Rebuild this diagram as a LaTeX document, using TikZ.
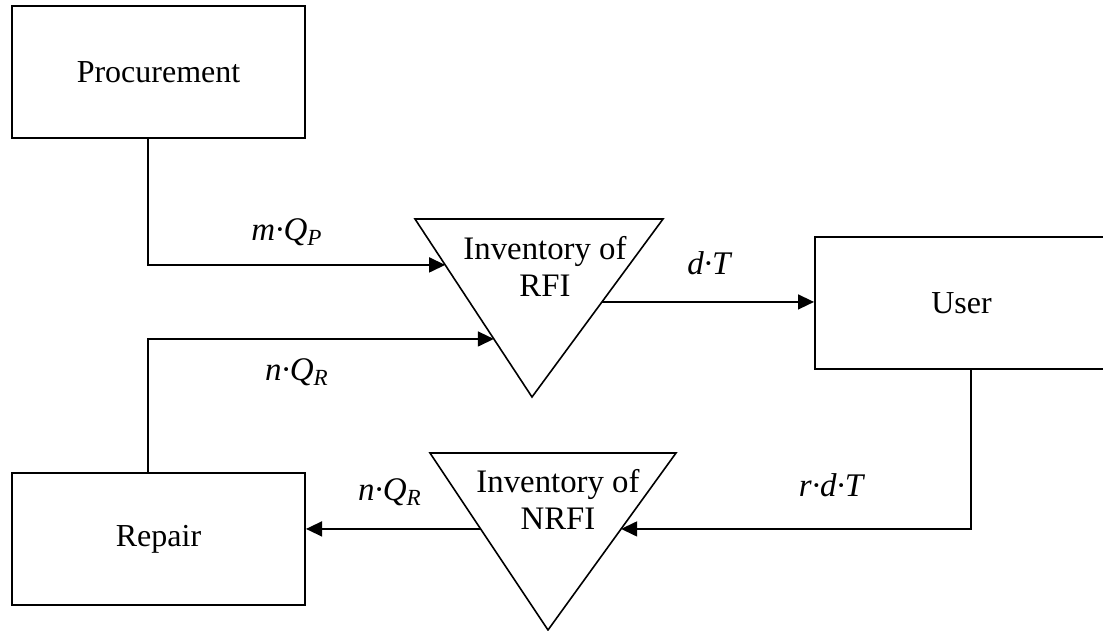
\documentclass[tikz,border=0pt]{standalone}
\usepackage{fontspec}
\setmainfont{Liberation Serif}
\usetikzlibrary{positioning, calc, arrows.meta}

\tikzset{
  blockbox/.style={draw, line width=1pt, minimum width=146.5pt, minimum height=66pt, inner sep=0pt, font=\fontsize{16}{19}\selectfont},
  stocktext/.style={align=center, inner sep=0pt, font=\fontsize{16.4}{18.5}\selectfont},
  flowlabel/.style={inner sep=0pt, font=\fontsize{16.5}{19}\selectfont},
  flow/.style={-{Triangle[length=8pt,width=7.5pt]}, line width=0.75pt},
}

\begin{document}
\begin{tikzpicture}[x=0.5pt, y=-0.5pt]
  \useasboundingbox (0,0) rectangle (1103,631);

  % ==========================================
  % Blocks
  % ==========================================
  \node[blockbox] (proc) at (158.5, 72.5) {Procurement};
  \node[blockbox] (user) at (961.5, 303) {User};
  \node[blockbox] (rep) at (158.5, 539) {Repair};

  % ==========================================
  % Inventories (triangles)
  % ==========================================
  \coordinate (rfiL) at (415,219);
  \coordinate (rfiR) at (663,219);
  \coordinate (rfiB) at (532,397);
  \draw[line width=0.8pt] (rfiL) -- (rfiR) -- (rfiB) -- cycle;
  \node[stocktext] (rfi) at (545,266) {Inventory of\\RFI};

  \coordinate (nrfiL) at (430,453);
  \coordinate (nrfiR) at (676,453);
  \coordinate (nrfiB) at (548,630);
  \draw[line width=0.8pt] (nrfiL) -- (nrfiR) -- (nrfiB) -- cycle;
  \node[stocktext] (nrfi) at (558,499) {Inventory of\\NRFI};

  % points on the triangle sides
  \coordinate (rfiin1) at ($(rfiL)!0.258!(rfiB)$);
  \coordinate (rfiin2) at ($(rfiL)!0.674!(rfiB)$);
  \coordinate (rfiout) at ($(rfiR)!0.466!(rfiB)$);
  \coordinate (nrfiin) at ($(nrfiR)!0.429!(nrfiB)$);
  \coordinate (nrfiout) at ($(nrfiL)!0.429!(nrfiB)$);

  % ==========================================
  % Flows
  % ==========================================
  \draw[flow] ([xshift=-5.25pt]proc.south) |- (rfiin1);
  \draw[flow] ([xshift=-5.25pt]rep.north) |- (rfiin2);
  \draw[flow] (rfiout) -- (rfiout -| user.west);
  \draw[flow] ([xshift=4.75pt]user.south) |- (nrfiin);
  \draw[flow] (nrfiout) -- (nrfiout -| rep.east);

  % labels
  \node[flowlabel] (lmq) at (287,232) {\textit{m·Q}\textsubscript{\textit{P}}};
  \node[flowlabel] (lnq1) at (297,372) {\textit{n·Q}\textsubscript{\textit{R}}};
  \node[flowlabel] (ldt) at (710,263) {\textit{d·T}};
  \node[flowlabel] (lrdt) at (832,485) {\textit{r·d·T}};
  \node[flowlabel] (lnq2) at (390,492) {\textit{n·Q}\textsubscript{\textit{R}}};
\end{tikzpicture}
\end{document}
